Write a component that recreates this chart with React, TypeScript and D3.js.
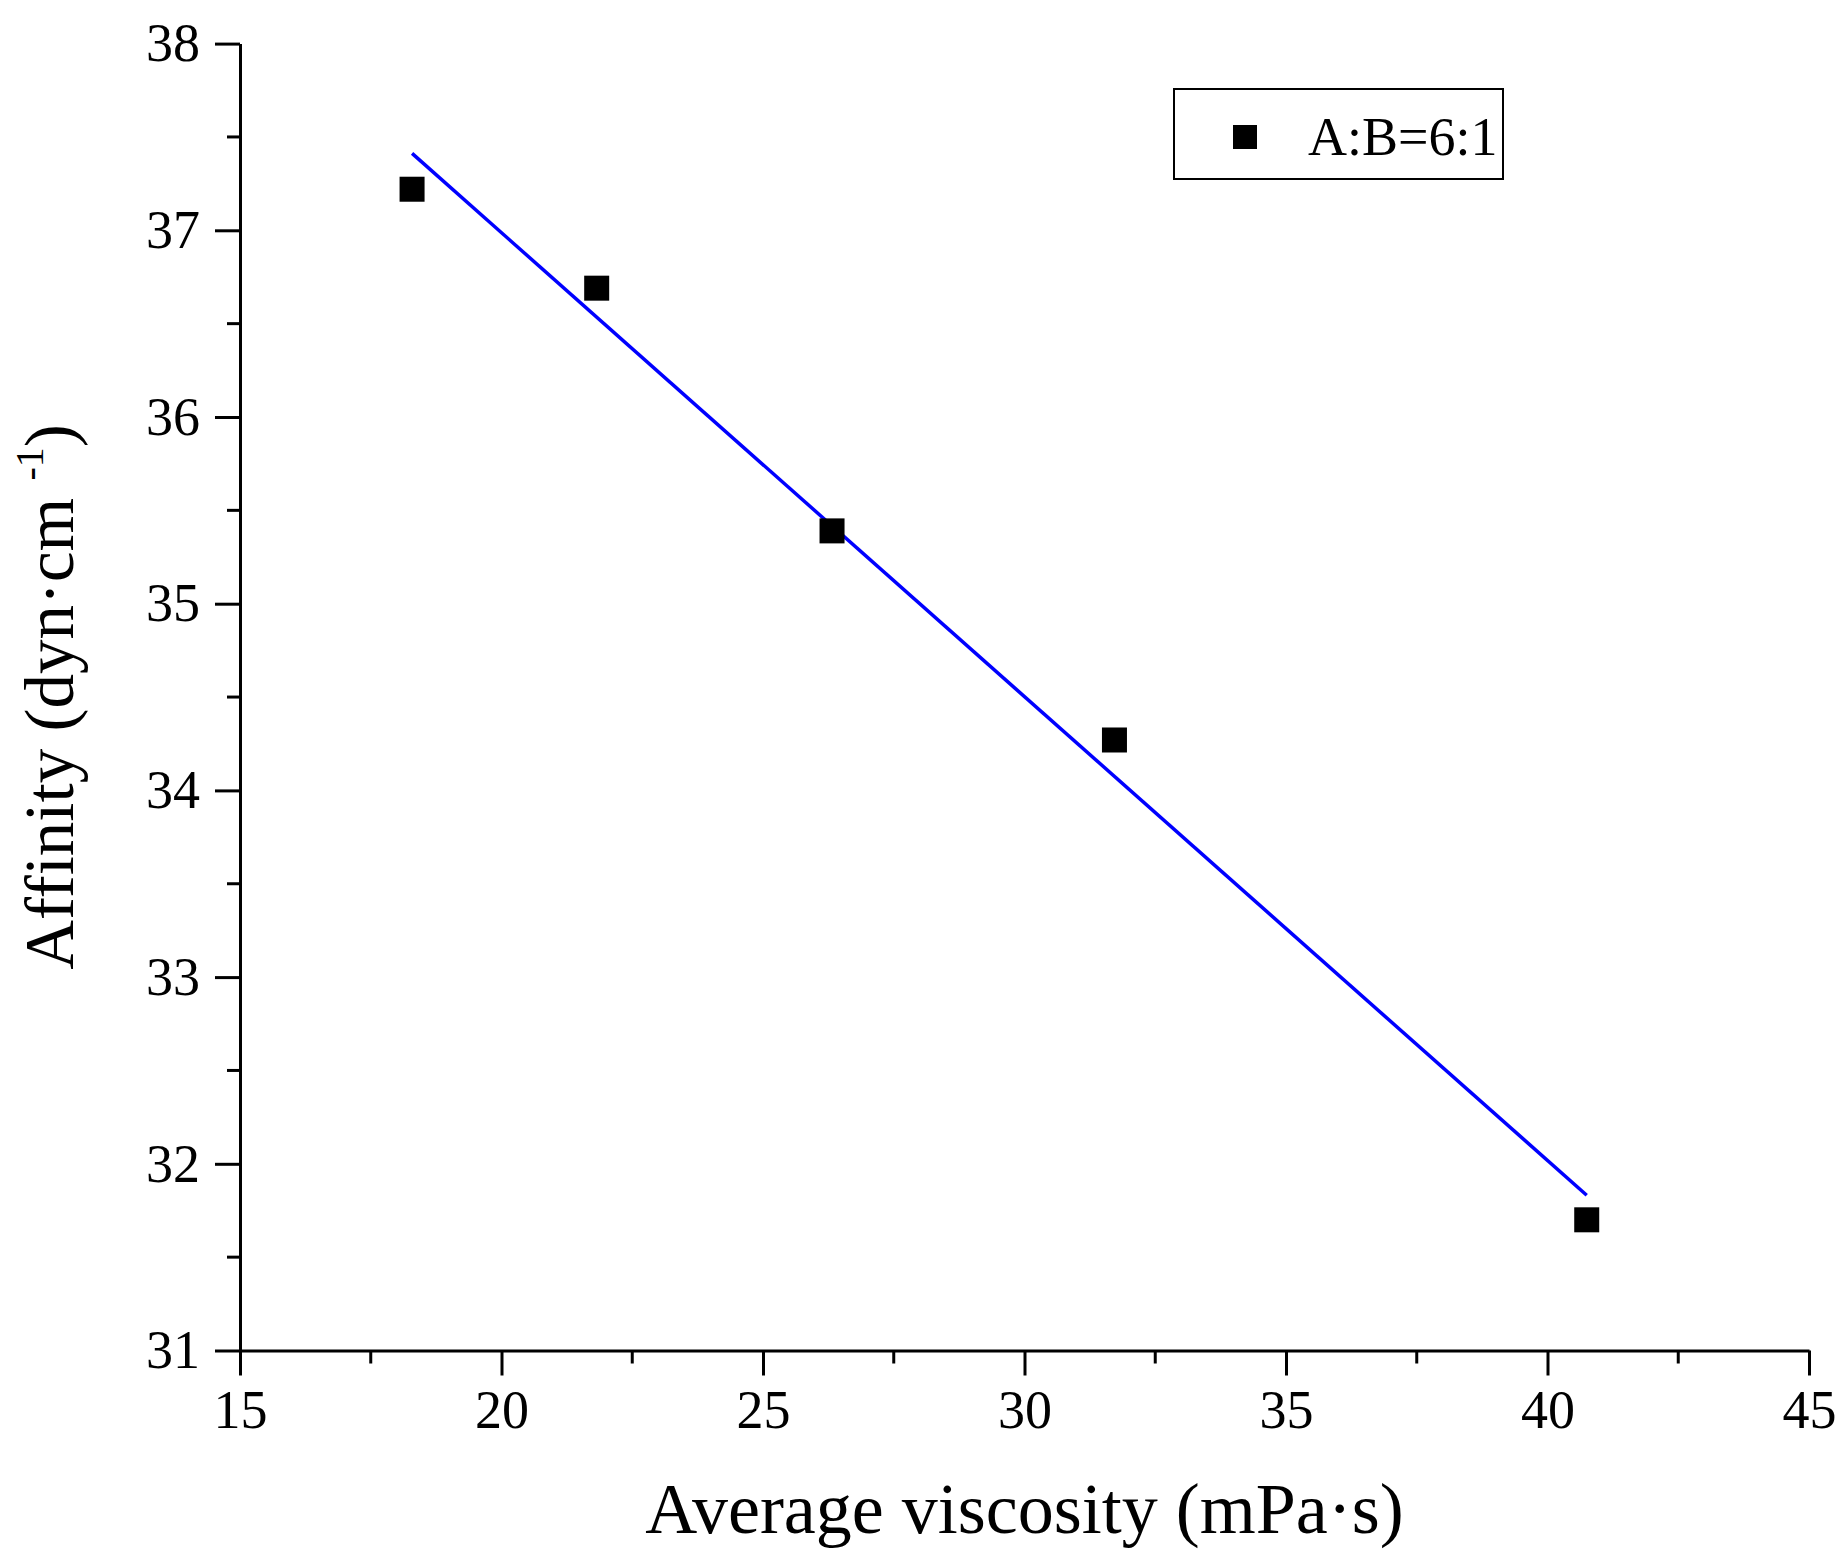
import { useEffect, useRef } from "react";
import * as d3 from "d3";

const viscosity = [18.29, 21.82, 26.32, 31.72, 40.75];
const affinity = [37.22, 36.69, 35.39, 34.27, 31.7];

const xTicks = [15, 20, 25, 30, 35, 40, 45];
const yTicks = [31, 32, 33, 34, 35, 36, 37, 38];
const seriesName = "A:B=6:1";

const WIDTH = 1846;
const HEIGHT = 1563;
const FONT = "'Liberation Serif', 'DejaVu Serif', serif";

export default function App() {
  const svgRef = useRef<SVGSVGElement>(null);

  useEffect(() => {
    if (!svgRef.current) return;
    const svg = d3.select(svgRef.current);
    svg.selectAll("*").remove();

    const marginLeft = 240;
    const marginRight = WIDTH - 1809;
    const marginTop = 43.6;
    const marginBottom = HEIGHT - 1350.5;

    const x = d3
      .scaleLinear()
      .domain([15, 45])
      .range([marginLeft, WIDTH - marginRight]);

    const y = d3
      .scaleLinear()
      .domain([31, 38])
      .range([HEIGHT - marginBottom, marginTop]);

    svg
      .append("rect")
      .attr("width", WIDTH)
      .attr("height", HEIGHT)
      .attr("fill", "white");

    // minor ticks
    const xMinor = d3.range(17.5, 45, 5);
    const yMinor = d3.range(31.5, 38, 1);

    // X axis
    svg
      .append("g")
      .attr("transform", `translate(0,${y(31)})`)
      .call(
        d3
          .axisBottom(x)
          .tickValues(xTicks)
          .tickFormat(d3.format("d"))
          .tickSize(25)
          .tickPadding(14)
          .tickSizeOuter(0),
      )
      .call((g) => g.select(".domain").attr("stroke-width", 3))
      .call((g) => g.selectAll(".tick line").attr("stroke-width", 3))
      .call((g) =>
        g
          .selectAll(".tick text")
          .attr("font-family", FONT)
          .attr("font-size", 54)
          .attr("fill", "black"),
      )
      .call((g) =>
        g
          .append("g")
          .selectAll("line")
          .data(xMinor)
          .join("line")
          .attr("x1", (d) => x(d))
          .attr("x2", (d) => x(d))
          .attr("y1", 0)
          .attr("y2", 13)
          .attr("stroke", "black")
          .attr("stroke-width", 3),
      );

    // Y axis
    svg
      .append("g")
      .attr("transform", `translate(${x(15)},0)`)
      .call(
        d3
          .axisLeft(y)
          .tickValues(yTicks)
          .tickFormat(d3.format("d"))
          .tickSize(25)
          .tickPadding(15)
          .tickSizeOuter(0),
      )
      .call((g) => g.select(".domain").attr("stroke-width", 3))
      .call((g) => g.selectAll(".tick line").attr("stroke-width", 3))
      .call((g) =>
        g
          .selectAll(".tick text")
          .attr("font-family", FONT)
          .attr("font-size", 54)
          .attr("fill", "black"),
      )
      .call((g) =>
        g
          .append("g")
          .selectAll("line")
          .data(yMinor)
          .join("line")
          .attr("y1", (d) => y(d))
          .attr("y2", (d) => y(d))
          .attr("x1", 0)
          .attr("x2", -13)
          .attr("stroke", "black")
          .attr("stroke-width", 3),
      );

    // Axis titles
    svg
      .append("text")
      .attr("x", (x(15) + x(45)) / 2)
      .attr("y", 1533)
      .attr("text-anchor", "middle")
      .attr("font-family", FONT)
      .attr("font-size", 72)
      .attr("fill", "black")
      .text("Average viscosity (mPa·s)");

    const yTitle = svg
      .append("text")
      .attr("transform", `translate(73,${(y(31) + y(38)) / 2}) rotate(-90)`)
      .attr("text-anchor", "middle")
      .attr("font-family", FONT)
      .attr("font-size", 69)
      .attr("fill", "black");
    yTitle.append("tspan").text("Affinity (dyn·cm ");
    yTitle
      .append("tspan")
      .attr("font-size", 40)
      .attr("dy", -30)
      .text("-1");
    yTitle.append("tspan").attr("dy", 30).text(")");

    // Linear fit line
    const pts = viscosity.map((v, i) => [v, affinity[i]] as [number, number]);
    const mx = d3.mean(viscosity) as number;
    const my = d3.mean(affinity) as number;
    const sxy = d3.sum(pts, ([a, b]) => (a - mx) * (b - my));
    const sxx = d3.sum(pts, ([a]) => (a - mx) ** 2);
    const slope = sxy / sxx;
    const fit = (v: number) => my + slope * (v - mx);
    const [x0, x1] = d3.extent(viscosity) as [number, number];

    svg
      .append("path")
      .datum([x0, x1])
      .attr("fill", "none")
      .attr("stroke", "#0000ff")
      .attr("stroke-width", 3.5)
      .attr(
        "d",
        d3
          .line<number>()
          .x((d) => x(d))
          .y((d) => y(fit(d))),
      );

    // Points
    const sq = 25;
    svg
      .append("g")
      .selectAll("rect")
      .data(pts)
      .join("rect")
      .attr("x", ([a]) => x(a) - sq / 2)
      .attr("y", ([, b]) => y(b) - sq / 2)
      .attr("width", sq)
      .attr("height", sq)
      .attr("fill", "black");

    // Legend
    const legend = svg.append("g");
    legend
      .append("rect")
      .attr("x", 1174)
      .attr("y", 89)
      .attr("width", 329)
      .attr("height", 90)
      .attr("fill", "white")
      .attr("stroke", "black")
      .attr("stroke-width", 2);
    legend
      .append("rect")
      .attr("x", 1245 - 12)
      .attr("y", 137 - 12)
      .attr("width", 24)
      .attr("height", 24)
      .attr("fill", "black");
    legend
      .append("text")
      .attr("x", 1308)
      .attr("y", 155)
      .attr("font-family", FONT)
      .attr("font-size", 54)
      .attr("fill", "black")
      .text(seriesName);
  }, []);

  return (
    <div style={{ position: "absolute", left: 0, top: 0 }}>
      <svg ref={svgRef} width={WIDTH} height={HEIGHT} style={{ display: "block" }} />
    </div>
  );
}
